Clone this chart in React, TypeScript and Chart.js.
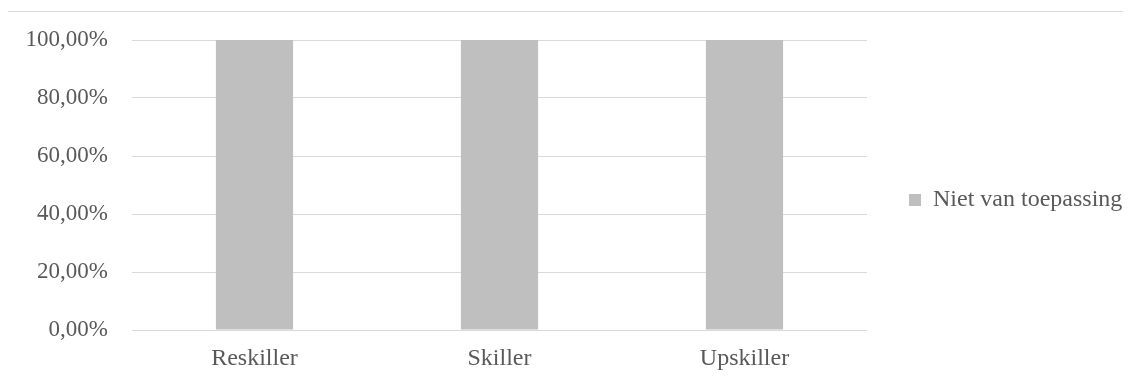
import React, { useEffect, useRef } from "react";
import { Chart, registerables } from "chart.js";

Chart.register(...registerables);

const categories = ["Reskiller", "Skiller", "Upskiller"];
const seriesLabel = "Niet van toepassing";
const seriesValues = [100, 100, 100];
const yTicks = [0, 20, 40, 60, 80, 100];

const FONT = '"Liberation Serif", "Times New Roman", serif';
const TEXT = "#595959";
const GRID = "#D9D9D9";
const BAR = "#BFBFBF";

const formatPct = (v: number) => v.toFixed(2).replace(".", ",") + "%";

export default function App() {
  const ref = useRef<HTMLCanvasElement | null>(null);

  useEffect(() => {
    if (!ref.current) return;
    const chart = new Chart(ref.current, {
      type: "bar",
      data: {
        labels: categories,
        datasets: [
          {
            label: seriesLabel,
            data: seriesValues,
            backgroundColor: BAR,
            borderWidth: 0,
            categoryPercentage: 1,
            barPercentage: 0.315,
          },
        ],
      },
      options: {
        responsive: false,
        animation: false,
        maintainAspectRatio: false,
        layout: { padding: { top: 5, left: 0, right: 0, bottom: 0 } },
        plugins: {
          tooltip: { enabled: false },
          legend: {
            position: "right",
            fullSize: true,
            maxWidth: 264,
            labels: {
              boxWidth: 12,
              boxHeight: 12,
              padding: 42,
              color: TEXT,
              font: { family: FONT, size: 24 },
            },
          },
        },
        scales: {
          x: {
            grid: { display: false, drawTicks: false },
            border: { display: false },
            ticks: {
              color: TEXT,
              padding: 14,
              font: { family: FONT, size: 24 },
              maxRotation: 0,
            },
            afterFit: (s: any) => {
              s.height = 53;
              s.paddingLeft = 0;
              s.paddingRight = 0;
            },
          },
          y: {
            min: 0,
            max: 100,
            afterBuildTicks: (s: any) => {
              s.ticks = yTicks.map((v) => ({ value: v }));
            },
            grid: { color: GRID, lineWidth: 1, drawTicks: false },
            border: { display: false },
            ticks: {
              color: TEXT,
              padding: 24,
              font: { family: FONT, size: 23 },
              callback: (v: any) => formatPct(Number(v)),
            },
            afterFit: (s: any) => {
              s.width = 124;
              s.paddingTop = 28;
              s.paddingBottom = 0;
            },
          },
        },
      },
    });
    return () => chart.destroy();
  }, []);

  return (
    <div
      style={{
        marginLeft: -1,
        marginTop: 3,
        borderTop: `1px solid ${GRID}`,
        borderLeft: `1px solid ${GRID}`,
        width: 1123,
        height: 371,
        background: "#fff",
      }}
    >
      <canvas ref={ref} width={1123} height={371} style={{ display: "block" }} />
    </div>
  );
}
